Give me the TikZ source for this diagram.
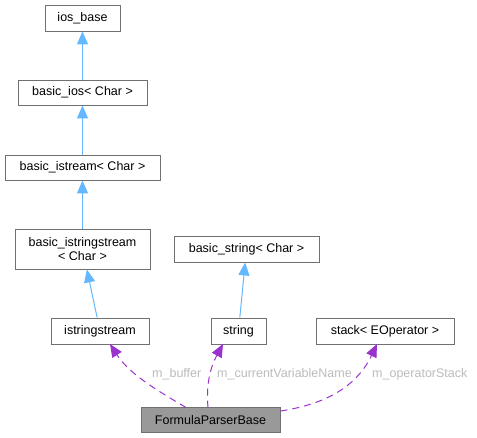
\documentclass[tikz,border=0pt]{standalone}
\usepackage{fontspec}
\setmainfont{Liberation Sans}
\usetikzlibrary{arrows.meta}
\definecolor{boxedge}{HTML}{707070}
\definecolor{inhblue}{HTML}{63B8FF}
\definecolor{usepurple}{HTML}{9A32CD}
\definecolor{lblgray}{HTML}{BBBBBB}
\definecolor{curfill}{HTML}{999999}
\tikzset{
  cls/.style={draw=boxedge, line width=0.9pt, fill=white, inner sep=0pt, align=center,
    font=\fontsize{12.5}{14}\selectfont},
  inh/.style={draw=inhblue, line width=1pt, -{Triangle[length=13pt,width=11pt]}},
  usage/.style={draw=usepurple, line width=1pt, dash pattern=on 7pt off 5pt,
    -{Triangle[length=13pt,width=11pt]}},
  lbl/.style={text=lblgray, font=\fontsize{12.5}{14}\selectfont, inner sep=0pt, anchor=west},
}
\begin{document}
\begin{tikzpicture}[x=1pt,y=-1pt]
\useasboundingbox (0,0) rectangle (477,437);
\node[cls, minimum width=75pt, minimum height=26pt] (iosbase) at (82.5,18) {ios\_base};
\node[cls, minimum width=129pt, minimum height=25pt] (basicios) at (82.5,92.5) {basic\_ios< Char >};
\node[cls, minimum width=155pt, minimum height=25pt] (basicistream) at (82.5,167.5) {basic\_istream< Char >};
\node[cls, minimum width=135pt, minimum height=40pt] (basicistringstream) at (82.5,249) {basic\_istringstream\\< Char >};
\node[cls, minimum width=98pt, minimum height=26pt] (istringstream) at (100,331) {istringstream};
\node[cls, minimum width=145pt, minimum height=26pt] (basicstring) at (246.5,249) {basic\_string< Char >};
\node[cls, minimum width=55pt, minimum height=26pt] (string) at (238.5,331) {string};
\node[cls, minimum width=138pt, minimum height=26pt] (stack) at (385,331) {stack< EOperator >};
\node[cls, fill=curfill, minimum width=139pt, minimum height=25pt] (fpb) at (210.5,420) {FormulaParserBase};

\draw[inh] (basicios) -- (iosbase);
\draw[inh] (basicistream) -- (basicios);
\draw[inh] (basicistringstream) -- (basicistream);
\draw[inh] (istringstream) -- (basicistringstream);
\draw[inh] (string) -- (basicstring);

\coordinate (fa) at (186,407.5);
\coordinate (fb) at (208,407.5);
\coordinate (fc) at (280.5,411);
\coordinate (ta) at (110,344);
\coordinate (tb) at (223,344);
\coordinate (tc) at (377,344);
\draw[usage] (fa) .. controls (160,392) and (130,375) .. (ta);
\draw[usage] (fb) .. controls (206,385) and (210,368) .. (tb);
\draw[usage] (fc) .. controls (320,405) and (355,390) .. (tc);

\node[lbl] (l1) at (152,374) {m\_buffer};
\node[lbl] (l2) at (217,374) {m\_currentVariableName};
\node[lbl] (l3) at (372,374) {m\_operatorStack};
\end{tikzpicture}
\end{document}
